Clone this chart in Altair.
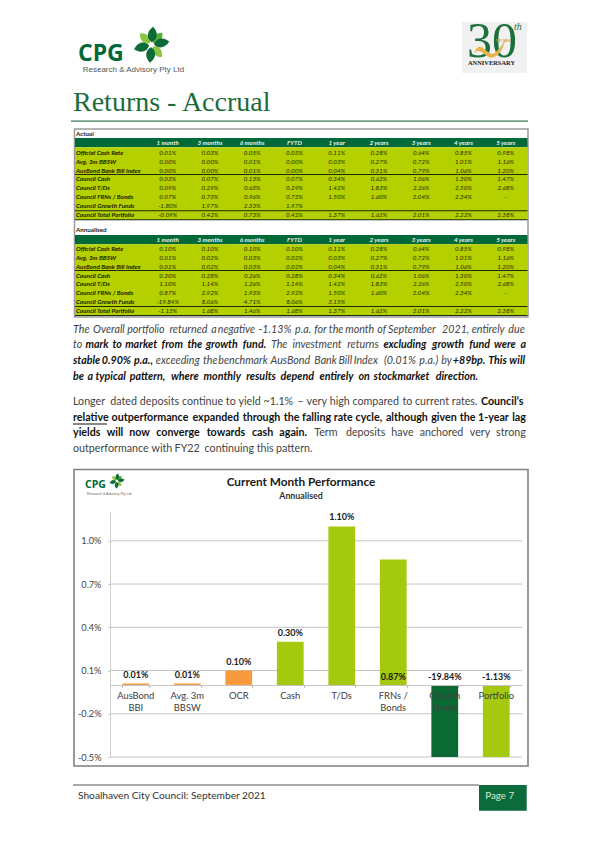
import altair as alt
import pandas as pd

# ---------- data ----------
periods = ["1 month", "3 months", "6 months", "FYTD", "1 year", "2 years", "3 years", "4 years", "5 years"]
row_names = ["Official Cash Rate", "Avg. 3m BBSW", "AusBond Bank Bill Index", "Council Cash", "Council T/Ds",
             "Council FRNs / Bonds", "Council Growth Funds", "Council Total Portfolio"]
actual_ocr = ["0.01%", "0.03%", "0.05%", "0.03%", "0.11%", "0.28%", "0.64%", "0.85%", "0.98%"]
actual_bbsw = ["0.00%", "0.00%", "0.01%", "0.00%", "0.03%", "0.27%", "0.72%", "1.01%", "1.16%"]
actual_bbi = ["0.00%", "0.00%", "0.01%", "0.00%", "0.04%", "0.31%", "0.79%", "1.06%", "1.20%"]
actual_cash = ["0.03%", "0.07%", "0.13%", "0.07%", "0.34%", "0.62%", "1.06%", "1.30%", "1.47%"]
actual_tds = ["0.09%", "0.29%", "0.63%", "0.29%", "1.42%", "1.83%", "2.26%", "2.50%", "2.68%"]
actual_frn = ["0.07%", "0.73%", "0.96%", "0.73%", "1.50%", "1.60%", "2.04%", "2.34%", "-"]
actual_growth = ["-1.80%", "1.97%", "2.33%", "1.97%", "", "", "", "", ""]
actual_total = ["-0.09%", "0.42%", "0.73%", "0.42%", "1.37%", "1.62%", "2.01%", "2.22%", "2.38%"]
ann_ocr = ["0.10%", "0.10%", "0.10%", "0.10%", "0.11%", "0.28%", "0.64%", "0.85%", "0.98%"]
ann_bbsw = ["0.01%", "0.02%", "0.03%", "0.02%", "0.03%", "0.27%", "0.72%", "1.01%", "1.16%"]
ann_bbi = ["0.01%", "0.02%", "0.03%", "0.02%", "0.04%", "0.31%", "0.79%", "1.06%", "1.20%"]
ann_cash = ["0.30%", "0.28%", "0.26%", "0.28%", "0.34%", "0.62%", "1.06%", "1.30%", "1.47%"]
ann_tds = ["1.10%", "1.14%", "1.26%", "1.14%", "1.42%", "1.83%", "2.26%", "2.50%", "2.68%"]
ann_frn = ["0.87%", "2.92%", "1.93%", "2.92%", "1.50%", "1.60%", "2.04%", "2.34%", "-"]
ann_growth = ["-19.84%", "8.06%", "4.71%", "8.06%", "3.15%", "", "", "", ""]
ann_total = ["-1.13%", "1.68%", "1.46%", "1.68%", "1.37%", "1.62%", "2.01%", "2.22%", "2.38%"]

categories = ["AusBond\nBBI", "Avg. 3m\nBBSW", "OCR", "Cash", "T/Ds", "FRNs /\nBonds", "Growth\nFunds", "Portfolio"]
values = [0.01, 0.01, 0.10, 0.30, 1.10, 0.87, -19.84, -1.13]
value_text = ["0.01%", "0.01%", "0.10%", "0.30%", "1.10%", "0.87%", "-19.84%", "-1.13%"]
kinds = ["benchmark", "benchmark", "benchmark", "council", "council", "council", "growth", "council"]
label_at_base = [False, False, False, False, False, True, True, True]
y_ticks = [1.0, 0.7, 0.4, 0.1, -0.2, -0.5]

# paragraphs: (text, bold) runs per justified line
para_lines = [
    [("The Overall portfolio returned a negative -1.13% p.a. for the month of September 2021, entirely due", False)],
    [("to", False), ("mark to market from the growth fund.", True), ("The investment returns", False),
     ("excluding growth fund were a", True)],
    [("stable 0.90% p.a.,", True), ("exceeding the benchmark AusBond Bank Bill Index (0.01% p.a.) by", False),
     ("+89bp. This will", True)],
    [("be a typical pattern, where monthly results depend entirely on stockmarket direction.", True)],
    [("Longer dated deposits continue to yield ~1.1% – very high compared to current rates.", False),
     ("Council’s", True)],
    [("relative outperformance expanded through the falling rate cycle, although given the 1-year lag", True)],
    [("yields will now converge towards cash again.", True), ("Term deposits have anchored very strong", False)],
    [("outperformance with FY22 continuing this pattern.", False)],
]
justified = [True, True, True, False, True, True, True, False]
para_italic = [True, True, True, True, False, False, False, False]

# ---------- layout ----------
LEFT, TOP, W, H = 110, 504, 412, 245
ORIGIN_X, ORIGIN_Y = LEFT, TOP + 8
FONT = "Lato"
GREEN = "#00693a"
LIME = "#b5d000"
ONE = pd.DataFrame({"k": [0]})
X = lambda v: v - ORIGIN_X
Y = lambda v: v - ORIGIN_Y
layers = []


def rect(x0, y0, x1, y1, fill, stroke=None, sw=0):
    kw = {"stroke": stroke, "strokeWidth": sw} if stroke else {}
    layers.append(alt.Chart(ONE).mark_rect(fill=fill, **kw).encode(
        x=alt.value(X(x0)), x2=alt.value(X(x1)), y=alt.value(Y(y0)), y2=alt.value(Y(y1))))


def text(x, y, s, size=11, color="#333333", bold=False, italic=False, align="left", font=FONT, baseline="middle"):
    layers.append(alt.Chart(ONE).mark_text(
        font=font, fontSize=size, color=color, align=align, baseline=baseline,
        fontWeight="bold" if bold else "normal", fontStyle="italic" if italic else "normal",
    ).encode(x=alt.value(X(x)), y=alt.value(Y(y)), text=alt.value(s)))


LEAF = "M0,-0.14 C0.36,-0.34 0.3,-0.75 0,-1 C-0.3,-0.75 -0.36,-0.34 0,-0.14 Z"


def star(cx, cy, r):
    d = pd.DataFrame({"a": [5, 80, 185, 255], "c": ["#0c6b36"] * 4})
    l = pd.DataFrame({"a": [42, 140, 315], "c": ["#5cae3a", "#8cc63f", "#8cc63f"]})
    for df, rr in ((l, r * 0.9), (d, r)):
        layers.append(alt.Chart(df).mark_point(shape=LEAF, filled=True, opacity=1, size=4 * rr * rr).encode(
            x=alt.value(X(cx)), y=alt.value(Y(cy)),
            angle=alt.Angle("a:Q", scale=None), color=alt.Color("c:N", scale=None)))


# ---------- page header ----------
text(78, 53.5, "CPG", 23, GREEN, bold=True, font="Open Sans")
text(82.7, 70, "Research & Advisory Pty Ltd", 8, "#555555", font="Liberation Sans")
star(151.5, 44.7, 18)

rect(462, 22, 527, 73, "#f1f1f1")
text(492, 42, "30", 50, "#1d6f3c", align="center", font="Liberation Serif")
text(514, 27, "th", 10, "#1d6f3c", italic=True, font="Liberation Serif")
layers.append(alt.Chart(ONE).mark_point(
    shape="M-1,0.5 C-0.6,-0.5 -0.2,0.8 0.3,0.5 C0.7,0.2 0.9,-0.2 1,-0.5 C0.9,0.1 0.6,0.8 0.1,0.8 C-0.3,0.8 -0.6,0.1 -1,0.5 Z",
    filled=True, opacity=1, size=1000, color="#e9b44c").encode(x=alt.value(X(490)), y=alt.value(Y(45))))
text(503, 41, "YEARS", 4.4, "#d9982a", bold=True, align="center", font="Liberation Serif")
text(491.5, 62.7, "ANNIVERSARY", 6.4, "#222222", bold=True, align="center", font="Liberation Serif")

text(73, 111, "Returns - Accrual", 28, "#1c6b3b", font="Liberation Serif", baseline="alphabetic")
rect(71, 120.6, 528, 121.8, "#3d7a52")

# ---------- tables ----------
rect(74.5, 129, 528, 317, "#ffffff", "#9a9a9a", 1.5)


def table(name, band_y, row_top, row_bottom, rows, label_y, rule_ys):
    text(76, label_y, name, 6.2, "#222222", bold=True)
    rect(75, band_y, 527.5, band_y + 9.2, GREEN)
    rect(75, band_y + 9.2, 527.5, rule_ys[-1], LIME)
    for r in rule_ys:
        rect(75, r - 0.5, 527.5, r + 0.5, "#1b2b10")
    xs = alt.Scale(type="point", domain=periods, range=[X(167.7), X(505.7)], padding=0)
    ys = alt.Scale(type="point", domain=row_names, range=[Y(row_top), Y(row_bottom)], padding=0)
    cells = pd.DataFrame([
        {"row": rn, "period": p, "v": v}
        for rn, vals in zip(row_names, rows) for p, v in zip(periods, vals)])
    layers.append(alt.Chart(pd.DataFrame({"period": periods})).mark_text(
        font=FONT, fontSize=6.3, fontStyle="italic", fontWeight="bold", color="#e8f3e8"
    ).encode(x=alt.X("period:N", scale=xs, axis=None), y=alt.value(Y(band_y + 4.6)), text="period:N"))
    layers.append(alt.Chart(cells).mark_text(
        font=FONT, fontSize=6.2, fontStyle="italic", color="#1f2c00"
    ).encode(x=alt.X("period:N", scale=xs, axis=None), y=alt.Y("row:N", scale=ys, axis=None), text="v:N"))
    layers.append(alt.Chart(pd.DataFrame({"row": row_names})).mark_text(
        font=FONT, fontSize=6.3, fontStyle="italic", fontWeight="bold", align="left", color="#182000"
    ).encode(x=alt.value(X(76)), y=alt.Y("row:N", scale=ys, axis=None), text="row:N"))


table("Actual", 138, 152.7, 215,
      [actual_ocr, actual_bbsw, actual_bbi, actual_cash, actual_tds, actual_frn, actual_growth, actual_total],
      134, [174.4, 210.8, 219.7])
table("Annualised", 235, 248.7, 311.3,
      [ann_ocr, ann_bbsw, ann_bbi, ann_cash, ann_tds, ann_frn, ann_growth, ann_total],
      230.3, [270.4, 306.4, 315.4])

# ---------- body text: words are spread across the column ----------
BODY = 10.7
GREY = "#444444"
BLK = "#111111"
LINE_Y = [329.7, 345.3, 361, 376.7, 402, 418, 433.3, 449]
COL_L, COL_R = 73, 526
CH = dict(a=.49, b=.56, c=.46, d=.56, e=.51, f=.32, g=.50, h=.55, i=.24, j=.24, k=.50, l=.24, m=.82, n=.55, o=.57,
          p=.56, q=.56, r=.36, s=.42, t=.34, u=.55, v=.50, w=.76, x=.49, y=.50, z=.45)


def width(word, bold):
    w = 0
    for c in word:
        if c in CH:
            w += CH[c]
        elif c.isdigit():
            w += .58
        elif c.isupper():
            w += .68
        elif c in ".,'’":
            w += .3
        elif c in "()-":
            w += .36
        elif c == "%":
            w += .84
        else:
            w += .58
    return w * BODY * (1.05 if bold else 1.02)


rows = []
for line, y, just, it in zip(para_lines, LINE_Y, justified, para_italic):
    words = [(w, b) for run, b in line for w in run.split(" ")]
    widths = [width(w, b) for w, b in words]
    gap = (COL_R - COL_L - sum(widths)) / (len(words) - 1) if just else BODY * 0.23
    x = COL_L
    for (w, b), ww in zip(words, widths):
        rows.append({"x": X(x), "y": Y(y), "w": w, "style": ("b" if b else "r") + ("i" if it else "")})
        x += ww + gap
rows = pd.DataFrame(rows)
for style, color, weight, slant in [("r", GREY, "normal", "normal"), ("b", BLK, "bold", "normal"),
                                    ("ri", GREY, "normal", "italic"), ("bi", BLK, "bold", "italic")]:
    layers.append(alt.Chart(rows[rows["style"] == style]).mark_text(
        font=FONT, fontSize=BODY, color=color, fontWeight=weight, fontStyle=slant, align="left"
    ).encode(x=alt.X("x:Q", scale=None, axis=None), y=alt.Y("y:Q", scale=None, axis=None), text="w:N"))
rect(73, 423.6, 107, 424.4, BLK)

# ---------- chart panel ----------
rect(74, 469.5, 528, 766, "#ffffff", "#808080", 1.6)
text(85, 484.7, "CPG", 10.5, GREEN, bold=True, font="Open Sans")
text(87, 493.5, "Research & Advisory Pty Ltd", 3.5, "#666666", font="Liberation Sans")
star(117, 481, 7.5)
text(301, 481.7, "Current Month Performance", 11.8, "#1a1a1a", bold=True, align="center")
text(301, 495.7, "Annualised", 8.8, "#333333", bold=True, align="center")

df = pd.DataFrame({"cat": categories, "v": values, "t": value_text, "kind": kinds, "base": label_at_base})
x_scale = alt.Scale(domain=categories, paddingInner=0.48, paddingOuter=0.24)
y_scale = alt.Scale(domain=[-0.5, 1.2], nice=False, zero=False, clamp=True)

grid = alt.Chart(pd.DataFrame({"t": y_ticks})).mark_rule(color="#c4c4c4", strokeWidth=1).encode(
    y=alt.Y("t:Q", scale=y_scale, axis=None), x=alt.value(0), x2=alt.value(W))
bars = alt.Chart(df).mark_bar().encode(
    x=alt.X("cat:N", scale=x_scale, sort=None, title=None,
            axis=alt.Axis(labels=False, orient="bottom", offset=-72, tickBand="extent", tickSize=2,
                          tickColor="#a0a0a0", domainColor="#c4c4c4", grid=False, zindex=1)),
    y=alt.Y("v:Q", scale=y_scale, title=None,
            axis=alt.Axis(values=y_ticks, format=".1f", labelExpr="replace(datum.label, '−', '-') + '%'",
                          labelFont=FONT, labelFontSize=9.2, labelColor="#444444", labelPadding=7, tickSize=2,
                          tickColor="#bdbdbd", domainColor="#cfcfcf", grid=False, zindex=1)),
    y2=alt.datum(0),
    color=alt.Color("kind:N", legend=None, scale=alt.Scale(
        domain=["benchmark", "council", "growth"], range=["#f79a3e", "#a5c90f", "#0b6a34"])),
)
cat_text = alt.Chart(df).mark_text(font=FONT, fontSize=9.4, color="#404040", baseline="top", dy=7, lineBreak="\n",
                                   lineHeight=12).encode(
    x=alt.X("cat:N", scale=x_scale, sort=None, axis=None), y=alt.datum(0, scale=y_scale, axis=None), text="cat:N")
top_labels = alt.Chart(df).transform_filter("!datum.base").mark_text(
    font=FONT, fontSize=9, fontWeight="bold", color="#1a1a1a", dy=-9).encode(
    x=alt.X("cat:N", scale=x_scale, sort=None, axis=None), y=alt.Y("v:Q", scale=y_scale, axis=None), text="t:N")
base_labels = alt.Chart(df).transform_filter("datum.base").mark_text(
    font=FONT, fontSize=9, fontWeight="bold", color="#1a1a1a", dy=-8).encode(
    x=alt.X("cat:N", scale=x_scale, sort=None, axis=None), y=alt.datum(0, scale=y_scale, axis=None), text="t:N")
layers.extend([grid, bars, base_labels, cat_text, top_labels])

# ---------- footer ----------
rect(73, 784.2, 479, 785.8, "#8c8c8c")
text(78, 795.7, "Shoalhaven City Council: September 2021", 10.2, "#333333")
rect(479, 785, 526.7, 810.7, "#0b6b3a")
text(499.7, 795.7, "Page 7", 9.8, "#d7ecd9", align="center")

chart = alt.layer(*layers).resolve_scale(x="independent", y="independent", color="independent").properties(
    width=W, height=H,
    padding={"left": LEFT - 8, "top": TOP, "right": 69, "bottom": 70},
    autosize=alt.AutoSizeParams(type="none"),
    background="#ffffff",
).configure_view(stroke=None)

chart.save("out.html", embed_options={"renderer": "svg", "actions": False})
